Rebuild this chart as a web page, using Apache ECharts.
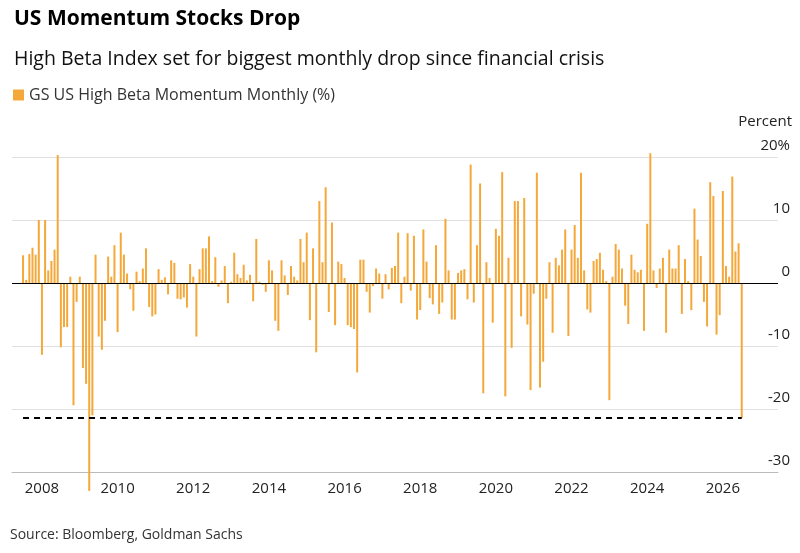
<!DOCTYPE html>
<html>
<head>
<meta charset="utf-8">
<script src="https://cdn.jsdelivr.net/npm/echarts@6/dist/echarts.min.js"></script>
<style>
  html, body { margin: 0; padding: 0; background: #fff; }
  #chart { width: 800px; height: 553px; }
</style>
</head>
<body>
<div id="chart"></div>
<script>
// monthly returns, Jul 2007 onwards
const startYear = 2007
const startMonth = 7
const values = [
  4.4, 0.5, 4.6, 5.6, 4.5, 10, -11.4, 10, 2, 3.5, 5.3, 20.3, -10.2, -7, -7, 1, -19.4, -3, 1, -13.5,
  -16, -33, -21, 4.5, -8.5, -10.6, -6, 4.2, 1, 6, -7.8, 8, 4.5, 1.5, -1, -4.4, 1.8,
  0.3, 2.3, 5.5, -3.8, -5.3, -5.0, 2.2, 0.5, 0.9, -1.8, 3.6, 3.2, -2.5, -2.6, -2.3, -3.9, 3, 1, -8.5,
  2.2, 5.5, 5.5, 7.4, 0.3, 4.1, -0.6, 0.4, 2.7, -3.2, 0.2, 4.8, 1.4, 0.8, 2.9, 0.4, 1.3, -2.9, 7, 0.2, -0.3,
  -1.4, 3.6, 2, -6, -7.6, 3.6, 1.2, -1.9, 2.7, 1, 0.4, 7, 3.3, 8, -5.9, 5.5, -11, 13, 3.3, 15.2,
  -4.6, 9.6, -6.7, 3.4, 3, 0.8, -6.7, -7, -7.3, -14.2, 3.7, 3.7, -1.4, -4.7, -0.5, 2.3, 1.5, -2.5, 1.4, -1, 2.4,
  2.7, 8, -3.2, 1, 7.9, -1.2, 7.5, -5.8, -4.3, 8.5, 3.4, -2.4, -3.4, 6, -4.9, -3.1, 10.2, 2, -5.8, -5.8,
  1.6, 2, 2.2, -2.6, 18.8, -3.1, 6, 15.8, -17.5, 3.3, 0.8, -6.3, 8.6, 7.5, 17.6, -18, 4, -10.3, 13,
  13, -5.3, 13.5, -6.6, -17, -1.7, 17.5, -16.6, -12.5, -2.5, 3.3, -7.9, 4, 2.8, 5.3, 8.5, -8.4, 5.3, 9.2, 4,
  17.5, 2, -4.2, -4.7, 3.5, 3.8, 4.8, 2.1, 0.3, -18.6, 1, 6.2, 5.3, 2.3, -3.6, -6.5, 4.5, 2.1, 1.7,
  2.1, -7.6, 9.4, 20.6, 2, -0.8, 2.3, 4, -7.9, 5.3, 2.3, 2.3, 6, -4.9, 3.8, 0.3, -4.3, 11.8, 6.9, 4.3,
  -3, -6.9, 16, 13.8, -8.2, -5.1, 14.6, 2.7, 1, 16.9, 5, 6.3, -21.4
]
const lastDrop = -21.4
// empty months shown before and after the data
const padBefore = 3
const padAfter = 11

const total = padBefore + values.length + padAfter
const months = []
for (let i = 0; i < total; i++) {
  const m = startMonth - 1 - padBefore + i
  const y = startYear + Math.floor(m / 12)
  months.push(y + '-' + String((m % 12) + 1).padStart(2, '0'))
}
const seriesData = new Array(padBefore).fill(null).concat(values, new Array(padAfter).fill(null))
const isJan = (i) => months[i].endsWith('-01')
const font = '"Open Sans", Roboto, Arial, sans-serif'

const chart = echarts.init(document.getElementById('chart'))
chart.setOption({
  animation: false,
  textStyle: { fontFamily: font },
  title: [
    { text: 'US Momentum Stocks Drop', left: 9, top: 4,
      textStyle: { fontSize: 21, fontWeight: 'bold', color: '#000', fontFamily: font } },
    { text: 'High Beta Index set for biggest monthly drop since financial crisis', left: 9, top: 44,
      textStyle: { fontSize: 19.5, fontWeight: 'normal', color: '#111', fontFamily: font } }
  ],
  legend: {
    left: 8, top: 82, icon: 'rect', itemWidth: 11, itemHeight: 11, itemGap: 6,
    textStyle: { fontSize: 16, color: '#333', fontFamily: font },
    data: ['GS US High Beta Momentum Monthly (%)']
  },
  graphic: [
    { type: 'text', right: 8, top: 114, style: { text: 'Percent', fontSize: 15, fill: '#222', fontFamily: font } },
    { type: 'text', left: 10, top: 528, style: { text: 'Source: Bloomberg, Goldman Sachs', fontSize: 14, fill: '#333', fontFamily: font } }
  ],
  grid: { left: 12, right: 22, top: 157, bottom: 81 },
  xAxis: {
    type: 'category',
    data: months,
    axisLine: { onZero: false, lineStyle: { color: '#bbb' } },
    axisTick: { interval: (i) => isJan(i), length: 5, alignWithLabel: true, lineStyle: { color: '#888' } },
    axisLabel: {
      interval: (i) => isJan(i) && Number(months[i].slice(0, 4)) % 2 === 0,
      formatter: (v) => v.slice(0, 4),
      fontSize: 15, color: '#222', margin: 9, fontFamily: font
    }
  },
  yAxis: {
    type: 'value', position: 'right', min: -30, max: 20, interval: 10,
    axisLine: { show: false }, axisTick: { show: false },
    splitLine: { lineStyle: { color: '#e0e0e0' } },
    axisLabel: {
      inside: true, verticalAlign: 'bottom', align: 'right', margin: -12, padding: [0, 0, 4, 0],
      fontSize: 15, color: '#222', fontFamily: font,
      formatter: (v) => (v === 20 ? '20%' : String(v))
    }
  },
  series: [{
    name: 'GS US High Beta Momentum Monthly (%)',
    type: 'bar',
    data: seriesData,
    barWidth: 2,
    clip: false,
    itemStyle: { color: '#f4a83a' },
    markLine: {
      silent: true, symbol: 'none', label: { show: false },
      data: [
        { yAxis: 0, lineStyle: { color: '#000', type: 'solid', width: 1 } },
        [
          { coord: [months[padBefore], lastDrop], lineStyle: { color: '#000', type: [6, 5], width: 2 } },
          { coord: [months[padBefore + values.length - 1], lastDrop] }
        ]
      ]
    }
  }]
})
</script>
</body>
</html>
